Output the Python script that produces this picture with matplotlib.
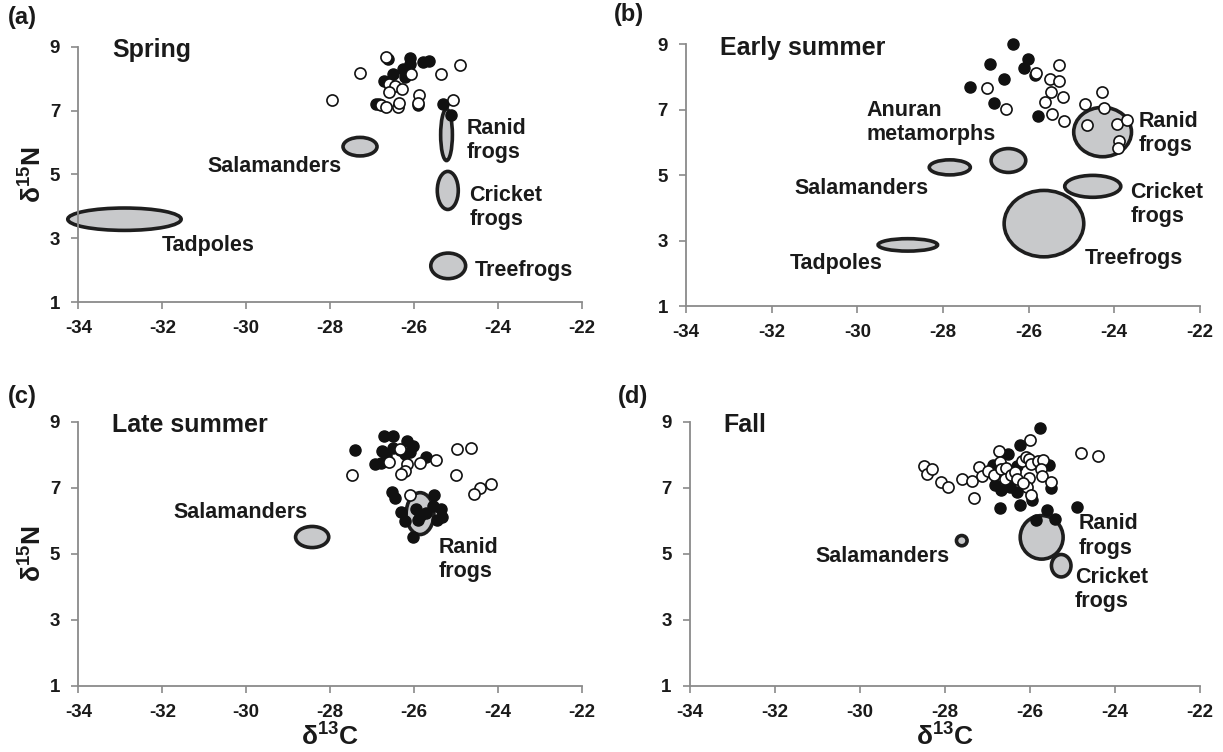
import matplotlib
matplotlib.use("Agg")
import matplotlib.pyplot as plt
from matplotlib.patches import Ellipse

plt.rcParams['font.family'] = ['Liberation Sans', 'DejaVu Sans']
plt.rcParams['mathtext.fontset'] = 'custom'
plt.rcParams['mathtext.rm'] = 'Liberation Sans:bold'
plt.rcParams['mathtext.default'] = 'rm'
plt.rcParams['axes.unicode_minus'] = False

# ---- spring ----
spring_open_x = [-26.66, -27.30, -27.96, -24.91, -25.37, -26.08, -25.08, -26.59, -26.45, -26.59,
                 -26.28, -25.89, -25.90, -26.80, -26.66, -26.39, -26.37]
spring_open_y = [8.68, 8.18, 7.33, 8.44, 8.13, 8.13, 7.33, 7.83, 7.76, 7.57,
                 7.67, 7.49, 7.23, 7.17, 7.12, 7.12, 7.25]
spring_fill_x = [-26.62, -26.11, -26.11, -25.78, -25.64, -26.50, -26.26, -26.21, -26.73, -26.91,
                 -26.83, -25.92, -25.32, -25.13]
spring_fill_y = [8.60, 8.63, 8.47, 8.52, 8.55, 8.15, 8.31, 8.04, 7.94, 7.20,
                 7.20, 7.17, 7.22, 6.85]
spring_groups = ['Tadpoles', 'Salamanders', 'Ranid frogs', 'Cricket frogs', 'Treefrogs']
spring_c13 = [-32.9, -27.29, -25.23, -25.20, -25.19]
spring_n15 = [3.60, 5.87, 6.24, 4.50, 2.14]
spring_c13_sd = [2.70, 0.81, 0.28, 0.50, 0.83]
spring_n15_sd = [0.70, 0.58, 1.61, 1.19, 0.80]

# ---- early summer ----
early_open_x = [-26.98, -26.52, -25.82, -25.30, -25.51, -25.28, -25.48, -25.20, -25.61, -25.46,
                -25.18, -24.67, -24.28, -24.23, -24.64, -23.94, -23.71, -23.88, -23.91]
early_open_y = [7.66, 7.02, 8.14, 8.37, 7.94, 7.89, 7.53, 7.38, 7.23, 6.87,
                6.66, 7.17, 7.53, 7.07, 6.54, 6.58, 6.69, 6.05, 5.83]
early_fill_x = [-26.37, -26.01, -26.10, -26.90, -26.57, -27.36, -26.81, -25.79, -25.85]
early_fill_y = [9.01, 8.55, 8.29, 8.40, 7.93, 7.69, 7.20, 6.82, 8.05]
early_groups = ['Tadpoles', 'Salamanders', 'Anuran metamorphs', 'Ranid frogs', 'Cricket frogs', 'Treefrogs']
early_c13 = [-28.82, -27.84, -26.47, -24.27, -24.50, -25.64]
early_n15 = [2.87, 5.24, 5.45, 6.32, 4.66, 3.52]
early_c13_sd = [1.39, 0.96, 0.81, 1.35, 1.31, 1.86]
early_n15_sd = [0.38, 0.46, 0.73, 1.51, 0.67, 2.03]

# ---- late summer ----
late_open_x = [-27.47, -26.33, -26.60, -26.16, -26.21, -26.31, -25.86, -25.48, -24.99, -24.64,
               -25.01, -24.16, -24.43, -24.58, -26.09]
late_open_y = [7.39, 8.18, 7.79, 7.72, 7.51, 7.43, 7.75, 7.85, 8.18, 8.20,
               7.39, 7.12, 7.00, 6.80, 6.77]
late_fill_x = [-27.40, -26.71, -26.51, -26.16, -26.02, -26.76, -26.51, -26.67, -26.33, -26.10,
               -26.94, -26.78, -25.72, -26.23,
               -26.52, -26.46, -26.32, -26.21, -26.04, -25.95, -25.86, -25.72, -25.54, -25.56,
               -25.36, -25.34, -25.45, -25.91]
late_fill_y = [8.14, 8.58, 8.56, 8.41, 8.26, 8.13, 8.21, 7.99, 8.15, 8.09,
               7.73, 7.76, 7.93, 8.04,
               6.87, 6.70, 6.27, 6.01, 5.51, 6.36, 6.16, 6.24, 6.78, 6.45,
               6.35, 6.12, 6.04, 6.04]
late_groups = ['Salamanders', 'Ranid frogs']
late_c13 = [-28.43, -25.86]
late_n15 = [5.51, 6.22]
late_c13_sd = [0.79, 0.66]
late_n15_sd = [0.64, 1.27]

# ---- fall ----
fall_open_x = [-28.48, -28.41, -28.29, -28.09, -27.93, -27.59, -27.36, -27.31, -27.19, -27.13,
               -26.99, -26.83, -26.72, -26.69, -26.67, -26.55, -26.58, -26.44, -26.35, -26.30,
               -26.18, -26.09, -26.01, -26.00, -25.96, -26.01, -26.06, -25.97, -26.17, -25.80,
               -25.69, -25.73, -25.71, -25.51, -24.79, -24.39]
fall_open_y = [7.66, 7.41, 7.57, 7.17, 7.03, 7.26, 7.21, 6.70, 7.64, 7.36,
               7.51, 7.40, 8.12, 7.79, 7.56, 7.60, 7.27, 7.40, 7.48, 7.27,
               7.82, 7.95, 7.88, 8.44, 7.71, 7.29, 7.03, 6.77, 7.14, 7.82,
               7.84, 7.58, 7.35, 7.17, 8.05, 7.98]
fall_fill_x = [-25.76, -26.24, -26.52, -26.86, -26.29, -25.55, -26.81, -26.67, -26.47, -26.30,
               -25.49, -26.69, -26.24, -25.94, -25.59, -24.89, -25.85, -25.41]
fall_fill_y = [8.80, 8.30, 8.02, 7.70, 7.66, 7.68, 7.09, 6.93, 7.04, 6.88,
               7.01, 6.38, 6.49, 6.63, 6.32, 6.43, 6.03, 6.05]
fall_groups = ['Salamanders', 'Ranid frogs', 'Cricket frogs']
fall_c13 = [-27.60, -25.72, -25.26]
fall_n15 = [5.40, 5.50, 4.64]
fall_c13_sd = [0.25, 1.01, 0.46]
fall_n15_sd = [0.31, 1.32, 0.68]

panels = [
    ('(a)', 'Spring', spring_open_x, spring_open_y, spring_fill_x, spring_fill_y,
     spring_c13, spring_n15, spring_c13_sd, spring_n15_sd),
    ('(b)', 'Early summer', early_open_x, early_open_y, early_fill_x, early_fill_y,
     early_c13, early_n15, early_c13_sd, early_n15_sd),
    ('(c)', 'Late summer', late_open_x, late_open_y, late_fill_x, late_fill_y,
     late_c13, late_n15, late_c13_sd, late_n15_sd),
    ('(d)', 'Fall', fall_open_x, fall_open_y, fall_fill_x, fall_fill_y,
     fall_c13, fall_n15, fall_c13_sd, fall_n15_sd),
]

# group labels: text, x, y, horizontal alignment
group_labels = [
    [('Tadpoles', -30.9, 2.77, 'center'), ('Salamanders', -29.33, 5.24, 'center'),
     ('Ranid\nfrogs', -24.75, 6.06, 'left'), ('Cricket\nfrogs', -24.68, 3.97, 'left'),
     ('Treefrogs', -24.56, 2.0, 'left')],
    [('Tadpoles', -30.49, 2.30, 'center'), ('Salamanders', -29.9, 4.59, 'center'),
     ('Anuran\nmetamorphs', -29.79, 6.62, 'left'), ('Ranid\nfrogs', -23.42, 6.28, 'left'),
     ('Cricket\nfrogs', -23.62, 4.10, 'left'), ('Treefrogs', -23.53, 2.45, 'center')],
    [('Salamanders', -30.14, 6.25, 'center'), ('Ranid\nfrogs', -25.42, 4.82, 'left')],
    [('Salamanders', -29.46, 4.92, 'center'), ('Ranid\nfrogs', -24.85, 5.54, 'left'),
     ('Cricket\nfrogs', -24.94, 3.93, 'left')],
]

# axes rectangles in figure fraction
rects = [
    [0.064, 0.598, 0.412, 0.340],
    [0.561, 0.593, 0.420, 0.348],
    [0.064, 0.088, 0.412, 0.351],
    [0.564, 0.088, 0.417, 0.351],
]

fig = plt.figure(figsize=(12.23, 7.52), dpi=100)
spine_col = '#8a8a8a'
ink = '#1a1a1a'

for i, (tag, season, ox, oy, fx, fy, cx, cy, w, h) in enumerate(panels):
    ax = fig.add_axes(rects[i])
    ax.set_xlim(-34, -22)
    ax.set_ylim(1, 9)
    ax.set_xticks(range(-34, -21, 2))
    ax.set_yticks([1, 3, 5, 7, 9])
    for s in ['top', 'right']:
        ax.spines[s].set_visible(False)
    for s in ['left', 'bottom']:
        ax.spines[s].set_color(spine_col)
        ax.spines[s].set_linewidth(1.3)
    ax.tick_params(length=5, width=1.2, color=spine_col, labelsize=13.5, labelcolor=ink, pad=8)
    for lab in ax.get_xticklabels() + ax.get_yticklabels():
        lab.set_fontweight('bold')

    for j in range(len(cx)):
        e = Ellipse((cx[j], cy[j]), w[j], h[j], facecolor='#c8c9cb', edgecolor='#1e1e1e',
                    linewidth=2.6, clip_on=False, zorder=2)
        ax.add_patch(e)

    ax.scatter(fx, fy, s=64, facecolor='#111111', edgecolor='#111111', linewidth=1.0,
               zorder=3, clip_on=False)
    ax.scatter(ox, oy, s=64, facecolor='white', edgecolor='#111111', linewidth=1.2,
               zorder=4, clip_on=False)

    for text, tx, ty, ha in group_labels[i]:
        ax.text(tx, ty, text, ha=ha, va='center', fontsize=15.5, fontweight='bold',
                color=ink, linespacing=1.2, zorder=5)

    ax.text(-33.2, 8.9, season, ha='left', va='center', fontsize=18, fontweight='bold',
            color=ink)
    ty = 1.115 if i < 2 else 1.095
    ax.text(-0.14, ty, tag, transform=ax.transAxes, ha='left', va='center',
            fontsize=17, fontweight='bold', color=ink)

    if i % 2 == 0:
        ax.set_ylabel('δ$^{15}$N', fontsize=19, fontweight='bold', color=ink, labelpad=2)
    if i >= 2:
        ax.set_xlabel('δ$^{13}$C', fontsize=19, fontweight='bold', color=ink, labelpad=2)

fig.savefig('out.png', dpi=100, facecolor='white')
